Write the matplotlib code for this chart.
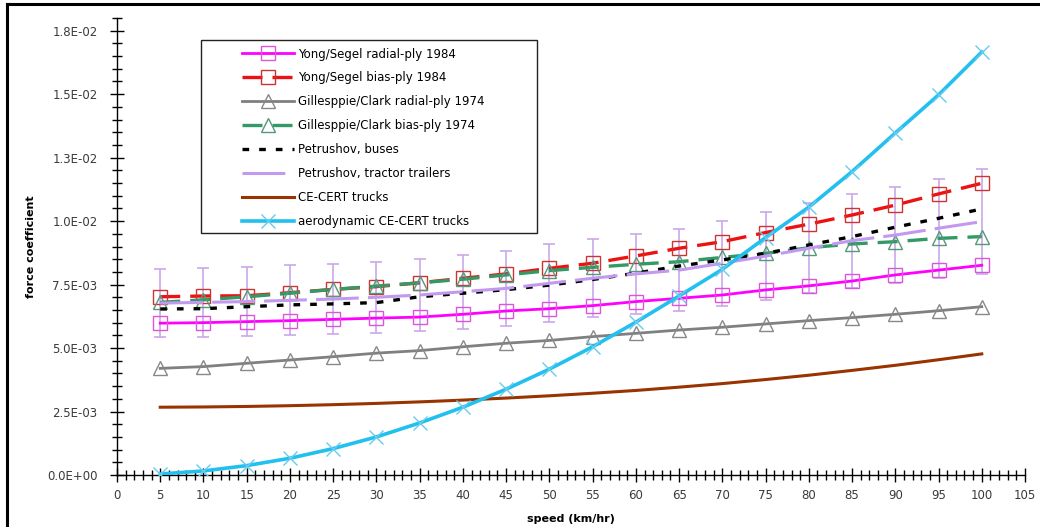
"""
Rolling resistance / aerodynamic force coefficients vs speed
(recreation of an Excel-style chart).
"""

import matplotlib
matplotlib.use("Agg")
import matplotlib.pyplot as plt
from matplotlib.lines import Line2D
from matplotlib.patches import Rectangle
from matplotlib.ticker import MultipleLocator


# =============================================================================
# DATA
# =============================================================================

speed = [5, 10, 15, 20, 25, 30, 35, 40, 45, 50,
         55, 60, 65, 70, 75, 80, 85, 90, 95, 100]

yong_radial = [0.00598, 0.00600, 0.00604, 0.00608, 0.00613, 0.00618, 0.00622, 0.00633,
               0.00646, 0.00655, 0.00667, 0.00683, 0.00696, 0.00709, 0.00729, 0.00745,
               0.00764, 0.00788, 0.00807, 0.00826]

yong_bias = [0.00702, 0.00705, 0.00706, 0.00718, 0.00731, 0.00742, 0.00757, 0.00775,
             0.00792, 0.00814, 0.00834, 0.00863, 0.00893, 0.00919, 0.00955, 0.00988,
             0.01024, 0.01063, 0.01107, 0.01149]

gc_radial = [0.00420, 0.00427, 0.00440, 0.00453, 0.00466, 0.00480, 0.00490, 0.00505,
             0.00519, 0.00530, 0.00545, 0.00558, 0.00571, 0.00582, 0.00595, 0.00608,
             0.00620, 0.00633, 0.00647, 0.00663]

gc_bias = [0.00680, 0.00690, 0.00702, 0.00716, 0.00731, 0.00744, 0.00757, 0.00771,
           0.00788, 0.00805, 0.00818, 0.00830, 0.00840, 0.00857, 0.00873, 0.00895,
           0.00910, 0.00919, 0.00932, 0.00939]

petru_buses = [0.00654, 0.00655, 0.00663, 0.00670, 0.00674, 0.00679, 0.00702, 0.00716,
               0.00730, 0.00748, 0.00770, 0.00795, 0.00823, 0.00847, 0.00873, 0.00906,
               0.00939, 0.00976, 0.01011, 0.01048]

petru_trailers = [0.00677, 0.00680, 0.00683, 0.00688, 0.00693, 0.00700, 0.00709, 0.00722,
                  0.00735, 0.00755, 0.00775, 0.00792, 0.00807, 0.00834, 0.00862, 0.00893,
                  0.00923, 0.00945, 0.00972, 0.00998]

trailers_err = [0.00135, 0.00136, 0.00137, 0.00138, 0.00139, 0.00140, 0.00143, 0.00146,
                0.00148, 0.00153, 0.00154, 0.00158, 0.00160, 0.00167, 0.00172, 0.00178,
                0.00185, 0.00190, 0.00195, 0.00207]

cecert = [0.00267, 0.00268, 0.00270, 0.00273, 0.00277, 0.00282, 0.00288, 0.00295,
          0.00303, 0.00312, 0.00322, 0.00333, 0.00346, 0.00360, 0.00376, 0.00393,
          0.00412, 0.00432, 0.00454, 0.00477]

aero_cecert = [0.00004, 0.00016, 0.00037, 0.00066, 0.00104, 0.00150, 0.00205, 0.00267,
               0.00338, 0.00417, 0.00505, 0.00602, 0.00705, 0.00810, 0.00935, 0.01055,
               0.01195, 0.01347, 0.01497, 0.01666]

y_ticks = [0.0, 0.0025, 0.005, 0.0075, 0.01, 0.0125, 0.015, 0.0175]
y_tick_labels = ["0.0E+00", "2.5E-03", "5.0E-03", "7.5E-03",
                 "1.0E-02", "1.3E-02", "1.5E-02", "1.8E-02"]

# =============================================================================
# FIGURE
# =============================================================================

W, H = 1040, 527
fig = plt.figure(figsize=(W / 100, H / 100), dpi=100)
ax = fig.add_axes([117 / W, 1 - 475 / H, 908 / W, 457 / H])

FONT = "DejaVu Sans"
TXT = "#3a3a3a"

# error bars on the tractor-trailer curve
ax.errorbar(speed, petru_trailers, yerr=trailers_err, fmt="none",
            ecolor="#c9a8ea", elinewidth=1.2, capsize=4, capthick=1.2, zorder=1)

ax.plot(speed, yong_radial, color="#ff00ff", lw=2.0, marker="s", ms=9.5,
        mfc="none", mec="#dd55dd", mew=1.0, label="Yong/Segel radial-ply 1984", zorder=3)
ax.plot(speed, yong_bias, color="#ee1111", lw=2.4, dashes=(6, 3), marker="s", ms=9.5,
        mfc="none", mec="#cc3333", mew=1.0, label="Yong/Segel bias-ply 1984", zorder=3)
ax.plot(speed, gc_radial, color="#808080", lw=2.0, marker="^", ms=10,
        mfc="none", mec="#888888", mew=1.0, label="Gillesppie/Clark radial-ply 1974", zorder=3)
ax.plot(speed, gc_bias, color="#339966", lw=2.4, dashes=(6, 3), marker="^", ms=10,
        mfc="none", mec="#55997a", mew=1.0, label="Gillesppie/Clark bias-ply 1974", zorder=3)
ax.plot(speed, petru_buses, color="black", lw=2.4, dashes=(2, 3),
        label="Petrushov, buses", zorder=3)
ax.plot(speed, petru_trailers, color="#c399f0", lw=2.2, dashes=(14, 3),
        label="Petrushov, tractor trailers", zorder=3)
ax.plot(speed, cecert, color="#993300", lw=2.2, label="CE-CERT trucks", zorder=3)
ax.plot(speed, aero_cecert, color="#22c0ee", lw=2.6, marker="x", ms=10,
        mec="#66ccee", mew=1.0, label="aerodynamic CE-CERT trucks", zorder=4)

# axes
ax.set_xlim(0, 105)
ax.set_ylim(0, 0.018)
ax.xaxis.set_major_locator(MultipleLocator(5))
ax.xaxis.set_minor_locator(MultipleLocator(1))
ax.set_yticks(y_ticks)
ax.set_yticklabels(y_tick_labels)
ax.yaxis.set_minor_locator(MultipleLocator(0.0005))

for side in ("top", "right"):
    ax.spines[side].set_visible(False)
for side in ("left", "bottom"):
    ax.spines[side].set_linewidth(1.0)
    ax.spines[side].set_color("black")

ax.tick_params(which="major", direction="inout", length=10, width=1.0,
               labelsize=8.5, labelcolor=TXT)
ax.tick_params(which="minor", direction="inout", length=7, width=1.0)
ax.tick_params(axis="y", which="major", pad=9)
ax.tick_params(axis="x", which="major", pad=5)
for lab in ax.get_xticklabels() + ax.get_yticklabels():
    lab.set_family(FONT)

ax.set_xlabel("speed (km/hr)", fontsize=8, fontweight="bold", family=FONT, labelpad=9)
ax.set_ylabel("force coefficient", fontsize=8, fontweight="bold", family=FONT, labelpad=8)

# legend (frame drawn separately to match the Excel box)
leg = ax.legend(loc="upper left", bbox_to_anchor=(231 / W, 1 - 37 / H),
                bbox_transform=fig.transFigure, frameon=False, numpoints=1,
                handlelength=4.4, handletextpad=0.4, labelspacing=0.92,
                prop={"family": FONT, "size": 8.5})
for t in leg.get_texts():
    t.set_color("black")

fig.add_artist(Rectangle((201 / W, 1 - 233 / H), 336 / W, 193 / H,
                         transform=fig.transFigure, fill=False,
                         edgecolor="#222222", lw=1.0))

# outer border of the screenshot (top and left visible)
fig.add_artist(Line2D([7 / W, 1], [1 - 4 / H, 1 - 4 / H],
                      transform=fig.transFigure, color="black", lw=2.2))
fig.add_artist(Line2D([7 / W, 7 / W], [0, 1 - 4 / H],
                      transform=fig.transFigure, color="black", lw=2.2))

fig.savefig("out.png", dpi=100, facecolor="white")
